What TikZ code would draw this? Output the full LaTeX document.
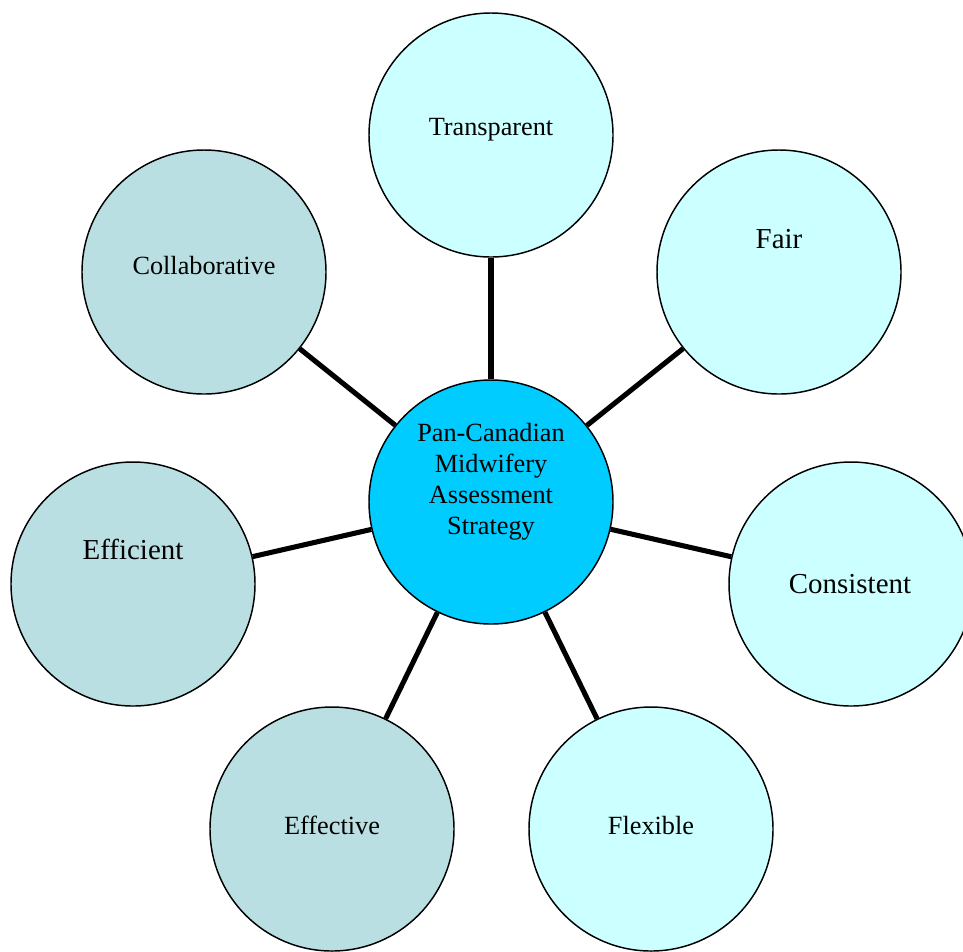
\documentclass[tikz,border=0pt]{standalone}
\usepackage{fontspec}
\setmainfont{Liberation Serif}
\definecolor{hubblue}{HTML}{00CCFF}
\definecolor{paleblue}{HTML}{CCFFFF}
\definecolor{greyblue}{HTML}{BADFE3}
\begin{document}
\begin{tikzpicture}[x=0.75pt, y=-0.75pt,
		bubble/.style = {shape=circle, draw, line width=1.1pt,
			minimum size=183pt, inner sep=0pt},
		word/.style = {inner sep=0pt, anchor=base,
			font=\fontsize{19.7}{23.25}\selectfont},
		bigword/.style = {word, font=\fontsize{21.7}{26}\selectfont},
		spoke/.style = {line width=3.8pt}]
	\clip (0,0) rectangle (963,951);
	\node[bubble, fill=hubblue] (hub) at (491,502) {};
	\node[bubble, fill=paleblue] (transparent) at (491,135) {};
	\node[bubble, fill=paleblue] (fair) at (779,272) {};
	\node[bubble, fill=paleblue] (consistent) at (851,584) {};
	\node[bubble, fill=paleblue] (flexible) at (651,829) {};
	\node[bubble, fill=greyblue] (effective) at (332,829) {};
	\node[bubble, fill=greyblue] (efficient) at (133,584) {};
	\node[bubble, fill=greyblue] (collaborative) at (204,272) {};
	% labels sit a little above the middle of each circle
	\node[word, anchor=north, align=center] (hub-t) at (491,423)
		{Pan-Canadian\\Midwifery\\Assessment\\Strategy};
	\node[word] (transparent-t) at (491,135) {Transparent};
	\node[bigword] (fair-t) at (779,248) {Fair};
	\node[bigword] (consistent-t) at (850,593) {Consistent};
	\node[word] (flexible-t) at (651,834) {Flexible};
	\node[word] (effective-t) at (332,834) {Effective};
	\node[bigword] (efficient-t) at (133,559) {Efficient};
	\node[word] (collaborative-t) at (204,274) {Collaborative};
	\foreach \leaf in {transparent,fair,consistent,flexible,effective,efficient,collaborative}
		\draw[spoke] (hub) -- (\leaf);
\end{tikzpicture}
\end{document}
